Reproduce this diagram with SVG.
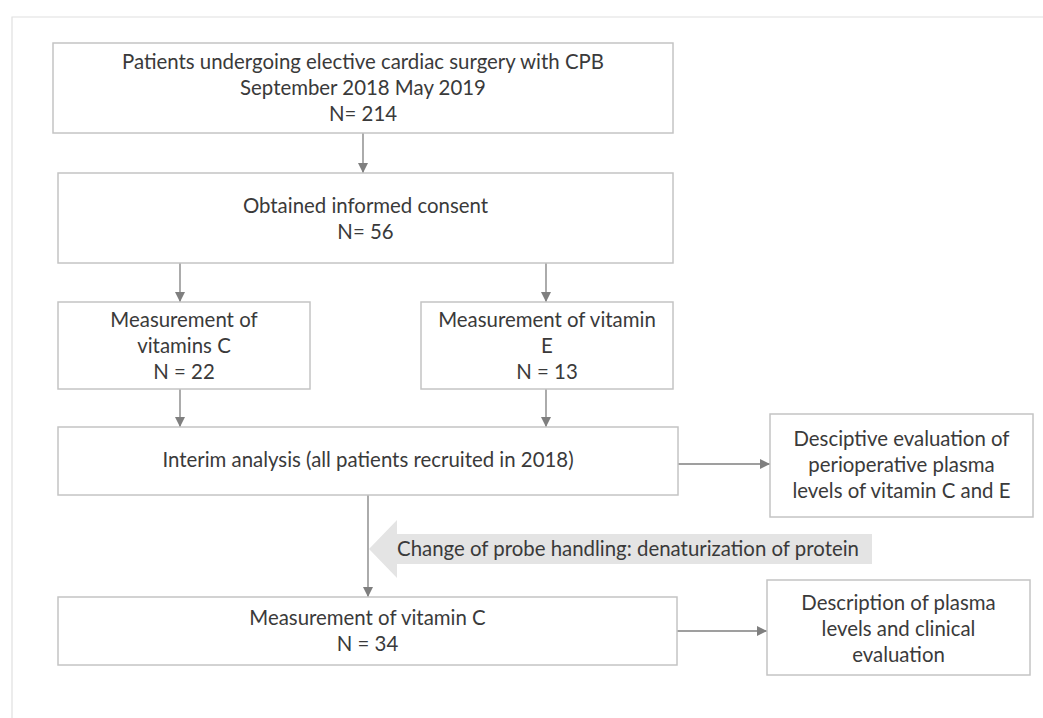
<svg xmlns="http://www.w3.org/2000/svg" width="1043" height="718" viewBox="0 0 1043 718">
<defs>
<style>
.box{fill:#fff;stroke:#c4c4c4;stroke-width:1.5}
.t{font-family:Lato,"Open Sans",sans-serif;font-size:20.4px;font-weight:400;fill:#3a3a3a;text-anchor:middle}
.ln{stroke:#7f7f7f;stroke-width:1.3;fill:none}
.frame{stroke:#e0e0e0;stroke-width:1.2;fill:none}
</style>
<marker id="ah" viewBox="0 0 10 10" refX="10" refY="5" markerWidth="10" markerHeight="10" markerUnits="userSpaceOnUse" orient="auto">
<path d="M0,0 L10,5 L0,10 z" fill="#7f7f7f"/>
</marker>
</defs>
<rect width="1043" height="718" fill="#fff"/>
<path class="frame" d="M12,718 V17 H1043"/>

<g id="connectors">
<line class="ln" x1="363" y1="133" x2="363" y2="173" marker-end="url(#ah)"/>
<line class="ln" x1="180" y1="263" x2="180" y2="302" marker-end="url(#ah)"/>
<line class="ln" x1="546" y1="263" x2="546" y2="302" marker-end="url(#ah)"/>
<line class="ln" x1="180" y1="389" x2="180" y2="427" marker-end="url(#ah)"/>
<line class="ln" x1="546" y1="389" x2="546" y2="427" marker-end="url(#ah)"/>
<line class="ln" x1="678" y1="464" x2="770" y2="464" marker-end="url(#ah)"/>
<line class="ln" x1="368" y1="495" x2="368" y2="597" marker-end="url(#ah)"/>
<line class="ln" x1="677" y1="631" x2="767" y2="631" marker-end="url(#ah)"/>
</g>

<g id="probe-change">
<polygon points="369,549 397,520 397,534 872,534 872,564 397,564 397,578" fill="#e4e4e4"/>
<text class="t" x="628" y="556">Change of probe handling: denaturization of protein</text>
</g>

<g id="n1">
<rect class="box" x="53" y="43" width="620" height="90"/>
<text class="t" x="363" y="69">Patients undergoing elective cardiac surgery with CPB</text>
<text class="t" x="363" y="95">September 2018 May 2019</text>
<text class="t" x="363" y="121">N= 214</text>
</g>

<g id="n2">
<rect class="box" x="58" y="173" width="615" height="90"/>
<text class="t" x="365.5" y="213">Obtained informed consent</text>
<text class="t" x="365.5" y="239">N= 56</text>
</g>

<g id="n3">
<rect class="box" x="58" y="302" width="252" height="87"/>
<text class="t" x="184" y="327">Measurement of</text>
<text class="t" x="184" y="353">vitamins C</text>
<text class="t" x="184" y="379">N = 22</text>
</g>

<g id="n4">
<rect class="box" x="421" y="302" width="252" height="87"/>
<text class="t" x="547" y="327">Measurement of vitamin</text>
<text class="t" x="547" y="353">E</text>
<text class="t" x="547" y="379">N = 13</text>
</g>

<g id="n5">
<rect class="box" x="58" y="427" width="620" height="68"/>
<text class="t" x="368" y="467">Interim analysis (all patients recruited in 2018)</text>
</g>

<g id="n6">
<rect class="box" x="770" y="414" width="263" height="103"/>
<text class="t" x="901.5" y="446">Desciptive evaluation of</text>
<text class="t" x="901.5" y="472">perioperative plasma</text>
<text class="t" x="901.5" y="498">levels of vitamin C and E</text>
</g>

<g id="n7">
<rect class="box" x="58" y="597" width="619" height="68"/>
<text class="t" x="367.5" y="625">Measurement of vitamin C</text>
<text class="t" x="367.5" y="651">N = 34</text>
</g>

<g id="n8">
<rect class="box" x="767" y="580" width="263" height="95"/>
<text class="t" x="898.5" y="610">Description of plasma</text>
<text class="t" x="898.5" y="636">levels and clinical</text>
<text class="t" x="898.5" y="662">evaluation</text>
</g>
</svg>
